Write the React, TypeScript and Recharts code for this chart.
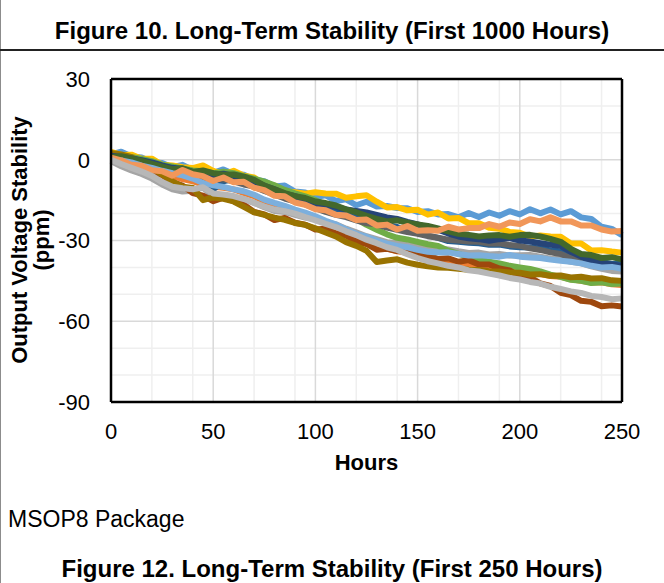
import { LineChart, Line, XAxis, YAxis, CartesianGrid, ReferenceLine } from 'recharts';

const hours = [0, 5, 10, 15, 20, 25, 30, 35, 40, 45, 50, 55, 60, 65, 70, 75, 80, 85, 90, 95, 100, 105, 110, 115, 120, 125, 130, 135, 140, 145, 150, 155, 160, 165, 170, 175, 180, 185, 190, 195, 200, 205, 210, 215, 220, 225, 230, 235, 240, 245, 250];

// one array per unit, ppm drift every 5 hours
const lightBlue = [2, 3, 1.2, 0.8, -0.9, -1.2, -2.8, -1.9, -3.8, -3, -4.9, -3.6, -5.3, -5.6, -7.4, -8, -9.9, -9.6, -11.8, -12.2, -13.9, -13.2, -15.3, -14.7, -16.9, -15.6, -17.4, -17.2, -17.9, -18, -19.4, -19.1, -20.3, -20.2, -21.4, -19.8, -21.3, -19.6, -20.8, -19.1, -20.3, -18.4, -19.9, -18.5, -20.3, -19.1, -21.4, -22, -24.9, -25.7, -28];
const orange = [0, -1.1, -2, -3.2, -4, -5.1, -6, -7.2, -8, -9.3, -10, -10.4, -11, -12.3, -13.5, -15.4, -17, -18.1, -19.5, -20.6, -22, -23.6, -25, -26.8, -28.5, -30.1, -31.5, -32.9, -34, -34.6, -35.5, -36.4, -37, -37.9, -38.5, -39.2, -39.5, -40.1, -40.5, -41.2, -41.5, -41.9, -42.5, -43.2, -43.5, -44.4, -45, -45.6, -45.5, -46.3, -46.5];
const gray = [-0.5, -2.4, -4, -5.3, -7, -9.2, -11, -11.8, -11.5, -10.4, -13.5, -13.2, -14, -14.6, -16, -17.6, -19, -19.4, -20.5, -21.5, -22, -23.2, -24, -25.6, -27, -28.4, -29.5, -30.6, -31, -31.4, -32, -32.7, -33, -33.3, -34, -34.6, -34.5, -35.2, -35, -35.6, -35.5, -35.4, -36, -36.8, -37, -37.9, -38.5, -39.6, -40.5, -41.3, -41.5];
const gold = [2.9, 1.8, 1.9, 0.4, 0.4, -1.9, -2.1, -2.8, -3.1, -2.1, -4.1, -5.4, -4.1, -5.9, -6.6, -9.4, -9.6, -11.7, -12.1, -12.6, -12.1, -12.5, -12.6, -14.1, -13.6, -13.2, -15.6, -17.7, -17.6, -18.8, -18.6, -20.4, -19.6, -21.8, -21.6, -23.6, -23.6, -25.3, -25.6, -26.8, -27.1, -28.6, -28.1, -28.5, -28.6, -31.1, -31.1, -33.7, -33.6, -34.1, -34.5];
const green = [2, 1.7, 1, 0.3, -0.5, -1.8, -2.5, -3.2, -4, -4.3, -5, -4.4, -5, -6.1, -7, -8.1, -9.5, -11.2, -12.5, -13.6, -15, -16.7, -18, -20.1, -22, -24.2, -26, -27.7, -29, -29.6, -30.5, -31.4, -32, -33.8, -35, -36.1, -37, -37.9, -38.5, -39.4, -40, -40.6, -41.5, -42.7, -43.5, -44.6, -45, -45.8, -45.5, -46.2, -46];
const blue = [1, 0.6, 0, -0.9, -1.5, -2.4, -3.5, -4.1, -5, -6, -11, -8, -7, -7.8, -9, -10.7, -12, -13.1, -14.5, -15.9, -17, -18.2, -19, -19.8, -21, -22.1, -23, -24.2, -25, -26.3, -27, -28.1, -29, -30.2, -30.5, -30.8, -31, -31.6, -31.5, -32.2, -32.5, -32.6, -33, -33.7, -34, -35.3, -36.5, -37.4, -38, -38.7, -38.5];
const brown = [1, 0.7, -1.4, -2.1, -4.4, -5.7, -8.4, -9.6, -12.4, -13.3, -15.4, -14.1, -15.4, -16.7, -19.4, -20.3, -22.4, -21.6, -23.4, -24.1, -25.9, -25.6, -27.4, -28.2, -30.4, -31.3, -33.4, -33.1, -33.9, -33.9, -35.4, -35.4, -36.9, -36.6, -37.9, -37.3, -38.9, -38.9, -40.4, -41.1, -43.4, -43.7, -45.9, -46.9, -49.4, -50.3, -52.4, -52.8, -54.4, -54.1, -54.5];
const darkGray = [1, 0.7, 0, -1.2, -2, -3.1, -4, -4.6, -5.5, -6.4, -7, -7.3, -8, -9.2, -10, -11.6, -13, -14.4, -15.5, -16.6, -18, -19.4, -20.5, -21.3, -22.5, -23.6, -24, -25.2, -26, -26.9, -27.5, -28.4, -29, -29.7, -30, -30.4, -30.5, -31.1, -31, -31.7, -32, -32.9, -33.5, -34.4, -35, -36.6, -37.5, -38.8, -39.5, -39.6, -40];
const darkGold = [2.5, 2, 1, -1, -3, -5.5, -8, -10, -10.5, -15, -14, -14.5, -15.5, -17.5, -19.5, -20.5, -21.5, -22.3, -23.5, -24.2, -25.5, -27, -28.5, -30.6, -32, -33.8, -38, -37.4, -37, -38.2, -39, -39.6, -40, -40.1, -40.5, -40.9, -41, -41.4, -41.5, -41.9, -42, -42.6, -42.5, -43.1, -43, -43.7, -43.5, -44.1, -44, -44.8, -45];
const darkBlue = [1.5, 1, 0.5, -0.2, -1, -2.1, -3, -3.4, -4.5, -4.9, -5.5, -5.2, -6, -7.1, -8, -9.7, -11, -12.6, -13.5, -14.9, -16, -16.6, -17.5, -18.5, -19, -19.6, -20.5, -21.4, -22, -23.1, -24, -25.2, -26, -27.4, -28.5, -29.2, -29.5, -30.1, -29.5, -29.1, -30, -30.4, -31, -31.6, -32, -34.2, -36, -37.6, -38.5, -38.9, -39.5];
const darkGreen = [1, 1.3, 0.5, -0.4, -1.5, -2.6, -3.5, -3.2, -4.5, -4, -5, -5.6, -5.5, -6.3, -7.5, -9.6, -11, -12.4, -13.5, -14.2, -15.5, -16.1, -17, -18.4, -19.5, -20.8, -22, -22.9, -22.5, -23.4, -24, -24.6, -25.5, -26.6, -27.5, -27.9, -28.5, -28.1, -28, -28.6, -28, -27.9, -28.5, -29.4, -30.5, -33.1, -35, -35.4, -36.5, -36.2, -37];
const paleBlue = [0, -0.3, -1, -2.2, -3, -4.1, -5, -5.8, -7, -8.6, -9.5, -10.1, -11, -11.7, -13, -14.8, -16, -17.1, -18.5, -19.6, -21, -22.7, -24, -25.9, -27.5, -28.6, -30, -31.2, -32, -32.5, -33.5, -34.2, -34.5, -34.4, -35, -35.6, -35.5, -35.8, -36, -35.4, -36, -36.3, -36.5, -37.1, -37.5, -37.9, -38.5, -39.4, -40, -39.8, -40.5];
const salmon = [0.8, -0.2, -1.9, -2.2, -3.9, -4.3, -5.9, -3.8, -5.4, -6.1, -7.9, -6.6, -8.4, -8.2, -10.4, -11.3, -13.4, -13.6, -15.9, -16.7, -18.4, -18.8, -20.4, -20.7, -22.4, -22.2, -24.4, -24.1, -25.9, -24.6, -26.4, -26.2, -26.4, -24.9, -25.9, -25.4, -25.4, -23.9, -24.9, -23.3, -23.9, -22.1, -22.9, -21.4, -22.9, -22.9, -24.4, -24.4, -25.9, -26.7, -26.5];
const lightGray = [0, -1.6, -3, -4.4, -6, -8.3, -10, -10.6, -11, -10.2, -12.5, -12.9, -13.5, -14.6, -16, -17.4, -18.5, -19.1, -20, -21.3, -22.5, -23.8, -25, -26.6, -28, -29.7, -31, -32.5, -33.5, -35.1, -36.5, -37.7, -38.5, -39.4, -40, -41.1, -41.5, -42.3, -43, -43.9, -44.5, -45.4, -46, -47.2, -48, -48.9, -49.5, -50.6, -51, -51.8, -51.5];

const xTicks = [0, 50, 100, 150, 200, 250];
const yTicks = [-90, -60, -30, 0, 30];
const minorX = [10, 20, 30, 40, 60, 70, 80, 90, 110, 120, 130, 140, 160, 170, 180, 190, 210, 220, 230, 240];
const majorX = [50, 100, 150, 200];
const minorY = [20, 10, -10, -20, -40, -50, -70, -80];
const majorY = [0, -30, -60];

// drawn in this order, last on top
const series = [
  { key: 'u1', values: lightBlue, color: '#5B9BD5' },
  { key: 'u2', values: orange, color: '#ED7D31' },
  { key: 'u3', values: gray, color: '#A5A5A5' },
  { key: 'u4', values: gold, color: '#FFC000' },
  { key: 'u6', values: green, color: '#70AD47' },
  { key: 'u7', values: blue, color: '#255E91' },
  { key: 'u8', values: brown, color: '#9E480E' },
  { key: 'u9', values: darkGray, color: '#636363' },
  { key: 'u10', values: darkGold, color: '#997300' },
  { key: 'u11', values: darkBlue, color: '#264478' },
  { key: 'u12', values: darkGreen, color: '#43682B' },
  { key: 'u13', values: paleBlue, color: '#7CAFDD' },
  { key: 'u14', values: salmon, color: '#F1975A' },
  { key: 'u15', values: lightGray, color: '#B7B7B7' },
];

const rows = hours.map((h, i) => {
  const row: Record<string, number> = { h };
  series.forEach((s) => {
    row[s.key] = s.values[i];
  });
  return row;
});

const font = '"Liberation Sans", Arial, sans-serif';

export default function App() {
  return (
    <div style={{ position: 'absolute', left: 0, top: 0, width: 664, height: 583, background: '#fff', fontFamily: font, color: '#000', overflow: 'hidden' }}>
      <div style={{ position: 'absolute', left: 0, top: 0, width: 1, height: 583, background: '#8c8c8c' }} />
      <div style={{ position: 'absolute', left: 0, top: 49, width: 664, height: 1.5, background: '#222' }} />
      <div style={{ position: 'absolute', left: 0, top: 19, width: 664, textAlign: 'center', fontSize: 24, lineHeight: '24px', fontWeight: 'bold' }}>
        Figure 10. Long-Term Stability (First 1000 Hours)
      </div>

      <LineChart
        width={664}
        height={583}
        data={rows}
        margin={{ top: 79, right: 42, bottom: 121, left: 51 }}
        style={{ position: 'absolute', left: 0, top: 0, fontFamily: font }}
      >
        <CartesianGrid stroke="#EFEFEF" strokeWidth={1.5} horizontalValues={minorY} verticalValues={minorX} />
        <CartesianGrid stroke="#D9D9D9" strokeWidth={1.5} horizontalValues={majorY} verticalValues={majorX} />
        <XAxis
          dataKey="h"
          type="number"
          domain={[0, 250]}
          ticks={xTicks}
          height={60}
          tickLine={false}
          tickSize={0}
          tickMargin={21}
          axisLine={{ stroke: '#000', strokeWidth: 2.5 }}
          tick={{ fontSize: 22, fill: '#000' }}
        />
        <YAxis
          type="number"
          domain={[-90, 30]}
          ticks={yTicks}
          width={60}
          tickLine={false}
          tickSize={0}
          tickMargin={21}
          axisLine={{ stroke: '#000', strokeWidth: 2.5 }}
          tick={{ fontSize: 22, fill: '#000' }}
        />
        {series.map((s) => (
          <Line
            key={s.key}
            dataKey={s.key}
            type="linear"
            stroke={s.color}
            strokeWidth={6}
            strokeLinejoin="round"
            dot={false}
            activeDot={false}
            isAnimationActive={false}
          />
        ))}
        <ReferenceLine y={30} stroke="#000" strokeWidth={2.5} />
        <ReferenceLine x={250} stroke="#000" strokeWidth={2.5} />
      </LineChart>

      <div style={{ position: 'absolute', left: 111, top: 452, width: 511, textAlign: 'center', fontSize: 22, lineHeight: '22px', fontWeight: 'bold' }}>
        Hours
      </div>
      <div
        style={{
          position: 'absolute',
          left: 31 - 170,
          top: 240 - 22,
          width: 340,
          height: 44,
          textAlign: 'center',
          fontSize: 22,
          lineHeight: '22px',
          fontWeight: 'bold',
          transform: 'rotate(-90deg)',
        }}
      >
        Output Voltage Stability
        <br />
        (ppm)
      </div>
      <div style={{ position: 'absolute', left: 8, top: 508, fontSize: 23, lineHeight: '23px' }}>MSOP8 Package</div>
      <div style={{ position: 'absolute', left: 0, top: 557, width: 664, textAlign: 'center', fontSize: 24, lineHeight: '24px', fontWeight: 'bold' }}>
        Figure 12. Long-Term Stability (First 250 Hours)
      </div>
    </div>
  );
}
